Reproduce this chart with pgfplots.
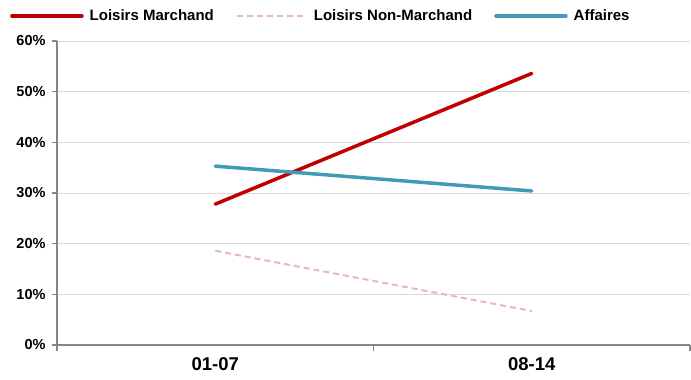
\documentclass[border=0pt]{standalone}
\usepackage{fontspec}
\setmainfont{Liberation Sans}
\usepackage{pgfplots}
\pgfplotsset{compat=1.18}
\definecolor{lmRed}{HTML}{C00000}
\definecolor{lnmPink}{HTML}{E6B9B8}
\definecolor{affTeal}{HTML}{409CB5}
\definecolor{gridGray}{HTML}{D9D9D9}
\definecolor{axisGray}{HTML}{868686}
\begin{document}
\begin{tikzpicture}
\begin{axis}[
  scale only axis,
  width=633pt, height=304pt,
  xmin=0, xmax=2, ymin=0, ymax=60,
  axis lines=left,
  axis line style={axisGray, line width=1.2pt, -},
  clip=false,
  xtick={0.5,1.5},
  xticklabels={01-07,08-14},
  minor xtick={0,1,2},
  major x tick style={draw=none},
  minor x tick style={axisGray, line width=1.2pt},
  minor tick length=6pt,
  ytick={0,10,...,60},
  y tick style={axisGray, line width=1.2pt},
  major tick length=5pt,
  tick align=outside,
  ymajorgrids,
  grid style={gridGray, line width=1pt},
  /pgf/number format/assume math mode=true,
  yticklabel={\pgfmathprintnumber{\tick}\%},
  yticklabel style={font=\fontsize{14.5}{15}\selectfont\bfseries, xshift=-3pt},
  xticklabel style={font=\fontsize{18.5}{19}\selectfont\bfseries, yshift=-4pt},
  legend columns=3,
  legend style={
    at={(axis description cs:0,1)}, anchor=west,
    xshift=-47pt, yshift=25pt,
    draw=none, fill=none, inner sep=0pt,
    font=\fontsize{15}{15}\selectfont\bfseries,
    /tikz/every odd column/.append style={column sep=4pt},
    /tikz/every even column/.append style={column sep=20pt},
  },
  legend image code/.code={\draw[#1] (0pt,0pt) -- (70pt,0pt);},
]
\addplot[lmRed, line width=3.5pt, line cap=round] coordinates {(0.5,27.8) (1.5,53.6)};
\addlegendentry{Loisirs Marchand}
\addplot[lnmPink, line width=2pt, dash pattern=on 6pt off 4pt] coordinates {(0.5,18.6) (1.5,6.7)};
\addlegendentry{Loisirs Non-Marchand}
\addplot[affTeal, line width=3.5pt, line cap=round] coordinates {(0.5,35.3) (1.5,30.4)};
\addlegendentry{Affaires}
\end{axis}
\pgfresetboundingbox
\path (0pt,0pt) ++(-57pt,-35pt) rectangle (634pt,345pt);
\end{tikzpicture}
\end{document}
